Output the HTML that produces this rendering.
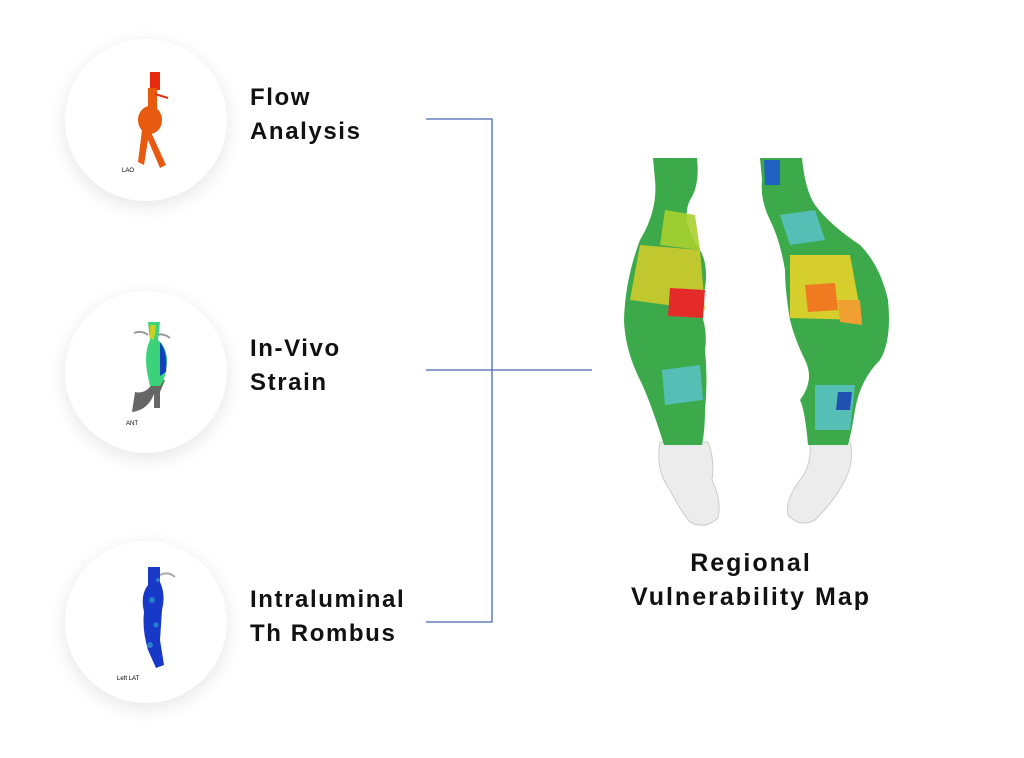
<!DOCTYPE html>
<html><head><meta charset="utf-8"><style>
body{margin:0;width:1024px;height:758px;background:#fff;overflow:hidden;font-family:"Liberation Sans",sans-serif}
.t{position:absolute;font-weight:bold;font-size:24px;line-height:34px;color:#111;letter-spacing:1.6px}
</style></head><body>
<svg width="1024" height="758" style="position:absolute;left:0;top:0">
<defs>
<filter id="sh" x="-50%" y="-50%" width="200%" height="200%"><feGaussianBlur stdDeviation="9"/></filter>
</defs>
<g fill="#000" opacity="0.09" filter="url(#sh)">
<circle cx="146" cy="125" r="82"/><circle cx="146" cy="377" r="82"/><circle cx="146" cy="627" r="82"/>
</g>
<g fill="#fff"><circle cx="146" cy="120" r="81"/><circle cx="146" cy="372" r="81"/><circle cx="146" cy="622" r="81"/></g>
<!-- icon 1 -->
<g fill="#e85a10">
<rect x="150" y="72" width="10" height="18" fill="#e82a10"/>
<rect x="148" y="88" width="9" height="22"/>
<ellipse cx="150" cy="120" rx="12" ry="14"/>
<path d="M142 130 L150 130 L166 165 L160 168 L148 140 L144 165 L138 162Z"/>
<path d="M155 94 L168 98" stroke="#e03010" stroke-width="2"/>
</g>
<text x="122" y="172" font-size="6" font-family="Liberation Sans">LAO</text>
<!-- icon 2 -->
<path d="M135 392 Q148 395 155 378 L165 380 L160 392 L160 408 L154 408 L154 394 Q148 410 132 412Z" fill="#666"/>
<path d="M134 333 Q142 330 148 335 M156 336 Q162 332 170 338" stroke="#999" stroke-width="2" fill="none"/>
<path d="M148 322 L160 322 L158 340 Q170 350 166 370 Q164 382 160 386 L150 386 L147 372 Q144 352 150 340Z" fill="#3cd27a"/>
<path d="M160 342 Q168 352 166 372 L160 376Z" fill="#1040c0"/>
<path d="M150 325 L156 325 L154 340 L150 338Z" fill="#c8d020"/>
<text x="126" y="425" font-size="6">ANT</text>
<!-- icon 3 -->
<path d="M148 567 L160 567 L160 582 Q166 595 162 610 L160 640 L164 665 L156 668 L148 650 Q142 630 144 612 Q140 595 148 585Z" fill="#1838c8"/>
<path d="M160 575 Q168 571 175 577" stroke="#aaa" stroke-width="2" fill="none"/>
<g fill="#30a0d0" opacity="0.7"><circle cx="152" cy="600" r="3"/><circle cx="156" cy="625" r="2.5"/><circle cx="150" cy="645" r="3"/><circle cx="158" cy="580" r="2"/></g>
<text x="117" y="680" font-size="6">Left LAT</text>
<!-- connectors -->
<g stroke="#4a67b2" stroke-width="1.3" fill="none">
<path d="M426 119 H492 V622 H426"/><path d="M426 370 H592"/>
</g>
<!-- left aorta legs -->
<path d="M660 442 Q655 470 670 490 Q680 510 690 522 Q705 530 718 518 Q722 500 712 480 Q715 460 708 442Z" fill="#ececec" stroke="#ccc"/>
<path d="M653 158 L697 158 Q700 185 690 200 Q680 220 700 250 Q712 270 700 310 Q708 330 705 350 Q708 380 705 410 Q705 430 702 445 L664 445 Q650 400 640 380 Q625 350 624 320 Q625 280 640 240 Q658 210 655 180Z" fill="#3caa4a"/>
<path d="M640 245 L700 250 L705 310 L630 300Z" fill="#d8cc2a" opacity="0.85"/>
<path d="M670 288 L705 290 L703 318 L668 316Z" fill="#e52a2a"/>
<path d="M662 370 L700 365 L703 400 L665 405Z" fill="#5bc4d0" opacity="0.8"/>
<path d="M665 210 L695 215 L700 250 L660 245Z" fill="#a8d030" opacity="0.9"/>
<!-- right aorta legs -->
<path d="M810 442 Q812 465 800 480 Q785 500 788 515 Q800 528 815 520 Q835 500 845 480 Q855 460 850 442Z" fill="#ececec" stroke="#ccc"/>
<path d="M760 158 L802 158 Q805 190 815 205 Q830 225 860 245 Q880 265 888 300 Q892 340 880 360 Q860 380 855 410 Q852 430 848 445 L808 445 Q805 410 800 400 Q815 380 805 360 Q795 340 790 320 Q785 290 785 270 Q780 240 770 220 Q760 200 762 180Z" fill="#3caa4a"/>
<path d="M764 160 L780 160 L780 185 L765 185Z" fill="#2060c0"/>
<path d="M790 255 L850 255 L862 320 L790 318Z" fill="#e6d22a" opacity="0.9"/>
<path d="M805 285 L835 283 L838 310 L808 312Z" fill="#f07a20"/>
<path d="M838 300 L860 300 L862 325 L840 322Z" fill="#f0a030"/>
<path d="M780 215 L815 210 L825 240 L790 245Z" fill="#5bc4d0" opacity="0.8"/>
<path d="M815 385 L855 385 L850 430 L815 430Z" fill="#5bc4d0" opacity="0.8"/>
<path d="M838 392 L852 392 L850 410 L836 410Z" fill="#2050b0"/>
</svg>
<div class="t" style="left:250px;top:81px">Flow<br>Analysis</div>
<div class="t" style="left:250px;top:332px">In-Vivo<br>Strain</div>
<div class="t" style="left:250px;top:583px">Intraluminal<br>Th Rombus</div>
<div class="t" style="left:601px;top:546px;width:300px;text-align:center;font-size:25px;letter-spacing:2px">Regional<br>Vulnerability Map</div>
</body></html>
